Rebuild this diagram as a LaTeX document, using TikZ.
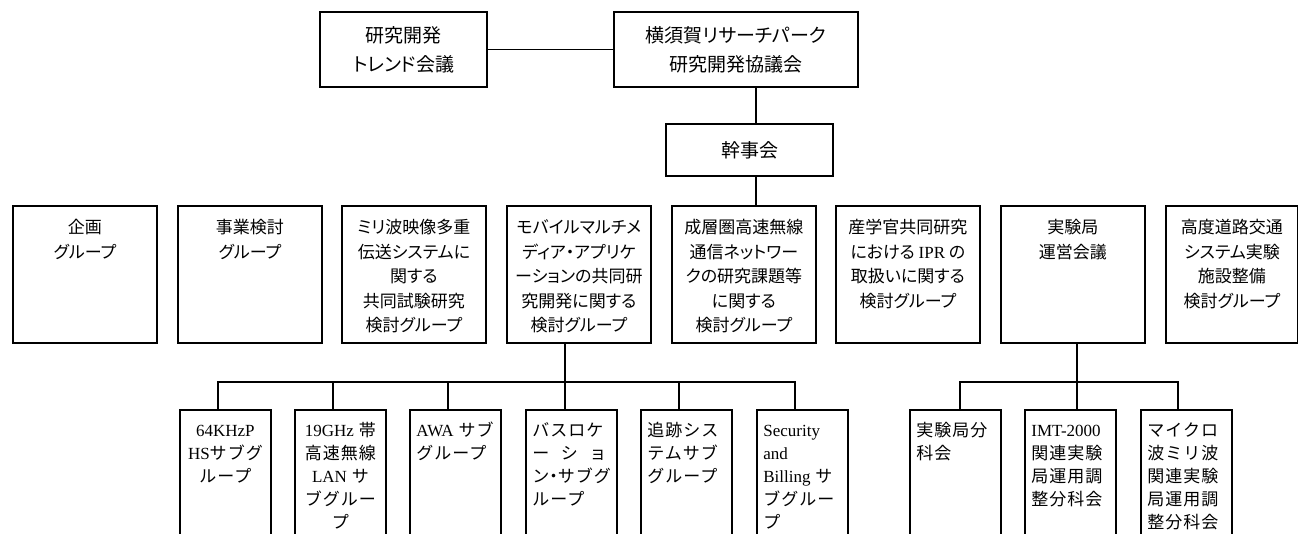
\documentclass[tikz,border=0pt]{standalone}
\usepackage{fontspec}
\setmainfont[RawFeature=+palt]{Noto Sans CJK JP}
\newfontfamily\subfont[LetterSpace=6]{Noto Sans CJK JP}
\newfontfamily\tms{Liberation Serif}
\usetikzlibrary{positioning}

\newcommand{\pdot}{{\addfontfeature{RawFeature=+palt}・}}
\newcommand{\midtext}[2][144pt]{\parbox[t][137pt][t]{#1}{\centering\fontsize{17pt}{24.5pt}\selectfont\rule{0pt}{28pt}#2}}
\newcommand{\subtext}[2][\raggedright]{\parbox[t][140pt][t]{78pt}{#1\subfont\fontsize{17pt}{23pt}\selectfont\rule{0pt}{27pt}#2}}

\begin{document}
\begin{tikzpicture}[x=1pt, y=-1pt, line width=1.8pt,
  topbox/.style={draw, align=center, inner sep=0pt, font=\fontsize{19pt}{29pt}\selectfont},
  midbox/.style={draw, anchor=north west, inner sep=0pt},
  subbox/.style={draw, anchor=north west, inner xsep=6.5pt, inner ysep=0pt}]
\useasboundingbox (0,0) rectangle (1298,533);
\clip (0,0) rectangle (1298,533);

\node[topbox, minimum width=167pt, minimum height=75pt] (trend) at (403.5, 49.5) {研究開発\\トレンド会議};
\node[topbox, minimum width=244pt, minimum height=75pt] (yrp) at (736, 49.5) {横須賀リサーチパーク\\研究開発協議会};
\node[topbox, minimum width=167pt, minimum height=52pt] (kanji) at (749.5, 150) {幹事会};

\node[midbox] (kikaku) at (12, 205) {\midtext{企画\\グループ}};
\node[midbox] (jigyo) at (177, 205) {\midtext{事業検討\\グループ}};
\node[midbox] (miri) at (341, 205) {\midtext{ミリ波映像多重\\伝送システムに\\関する\\共同試験研究\\検討グループ}};
\node[midbox] (mobile) at (506, 205) {\midtext{モバイルマルチメ\\ディア・アプリケ\\ーションの共同研\\究開発に関する\\検討グループ}};
\node[midbox] (seiso) at (671, 205) {\midtext{成層圏高速無線\\通信ネットワー\\クの研究課題等\\に関する\\検討グループ}};
\node[midbox] (ipr) at (835, 205) {\midtext{産学官共同研究\\における {\tms IPR} の\\取扱いに関する\\検討グループ}};
\node[midbox] (jikken) at (1000, 205) {\midtext{実験局\\運営会議}};
\node[midbox] (its) at (1165, 205) {\midtext[132pt]{高度道路交通\\システム実験\\施設整備\\検討グループ}};

\node[subbox] (b1) at (179, 409) {\subtext[\centering]{{\tms 64KHzP}\\{\tms HS}サブグ\\ループ}};
\node[subbox] (b2) at (294, 409) {\subtext[\centering]{{\tms 19GHz} 帯\\高速無線\\{\tms LAN} サ\\ブグルー\\プ}};
\node[subbox] (b3) at (409, 409) {\subtext{{\tms AWA} サブ\\グループ}};
\node[subbox] (b4) at (525, 409) {\subtext{バスロケ\\\makebox[74pt][s]{ー\hfill シ\hfill ョ}\\ン\pdot サブグ\\ループ}};
\node[subbox] (b5) at (640, 409) {\subtext{追跡シス\\テムサブ\\グループ}};
\node[subbox] (b6) at (756, 409) {\subtext{{\tms Security}\\{\tms and}\\{\tms Billing} サ\\ブグルー\\プ}};
\node[subbox] (b7) at (909, 409) {\subtext{実験局分\\科会}};
\node[subbox] (b8) at (1024, 409) {\subtext{{\tms IMT-2000}\\関連実験\\局運用調\\整分科会}};
\node[subbox] (b9) at (1140, 409) {\subtext{マイクロ\\波ミリ波\\関連実験\\局運用調\\整分科会}};

\draw (trend.east) -- (yrp.west);
\draw ([xshift=20pt]yrp.south) -- ([xshift=6.5pt]kanji.north);
\draw ([xshift=6.5pt]kanji.south) -- ([xshift=6.5pt]kanji.south |- seiso.north);
\draw ([xshift=-14pt]mobile.south) -- ([xshift=-14pt]mobile.south |- b4.north);
\draw ([xshift=39pt]b1.north west) -- ++(0,-27) -| ([xshift=39pt]b6.north west);
\foreach \b in {b2, b3, b5}
  \draw ([xshift=39pt]\b.north west) -- ++(0,-27);
\draw ([xshift=4pt]jikken.south) -- ([xshift=4pt]jikken.south |- b8.north);
\draw ([xshift=51pt]b7.north west) -- ++(0,-27) -| ([xshift=38pt]b9.north west);
\end{tikzpicture}
\end{document}
